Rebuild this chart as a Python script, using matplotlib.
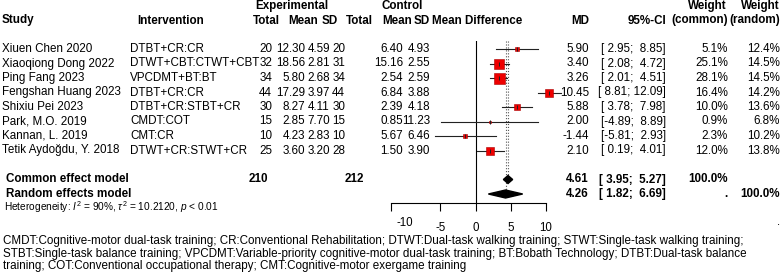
import matplotlib
matplotlib.use("Agg")
import matplotlib.pyplot as plt

plt.rcParams['font.family'] = ['Liberation Sans', 'DejaVu Sans']
plt.rcParams['mathtext.fontset'] = 'custom'
plt.rcParams['mathtext.rm'] = 'Liberation Sans'
plt.rcParams['mathtext.it'] = 'Liberation Sans:italic'

studies = ["Xiuen Chen 2020", "Xiaoqiong Dong 2022", "Ping Fang 2023", "Fengshan Huang 2023",
           "Shixiu Pei 2023", "Park, M.O. 2019", "Kannan, L. 2019", "Tetik Aydoğdu, Y. 2018"]
interv = ["DTBT+CR:CR", "DTWT+CBT:CTWT+CBT", "VPCDMT+BT:BT", "DTBT+CR:CR",
          "DTBT+CR:STBT+CR", "CMDT:COT", "CMT:CR", "DTWT+CR:STWT+CR"]
exp_n = [20, 32, 34, 44, 30, 15, 10, 25]
exp_mean = [12.30, 18.56, 5.80, 17.29, 8.27, 2.85, 4.23, 3.60]
exp_sd = [4.59, 2.81, 2.68, 3.97, 4.11, 7.70, 2.83, 3.20]
ctl_n = [20, 31, 34, 44, 30, 15, 10, 28]
ctl_mean = [6.40, 15.16, 2.54, 6.84, 2.39, 0.85, 5.67, 1.50]
ctl_sd = [4.93, 2.55, 2.59, 3.88, 4.18, 11.23, 6.46, 3.90]
md = [5.90, 3.40, 3.26, 10.45, 5.88, 2.00, -1.44, 2.10]
lo = [2.95, 2.08, 2.01, 8.81, 3.78, -4.89, -5.81, 0.19]
hi = [8.85, 4.72, 4.51, 12.09, 7.98, 8.89, 2.93, 4.01]
w_common = [5.1, 25.1, 28.1, 16.4, 10.0, 0.9, 2.3, 12.0]
w_random = [12.4, 14.5, 14.5, 14.2, 13.6, 6.8, 10.2, 13.8]

common = (4.61, 3.95, 5.27)
random_ = (4.26, 1.82, 6.69)
tot_exp, tot_ctl = 210, 212

footnote = ["CMDT:Cognitive-motor dual-task training; CR:Conventional Rehabilitation; DTWT:Dual-task walking training; STWT:Single-task walking training;",
            "STBT:Single-task balance training; VPCDMT:Variable-priority cognitive-motor dual-task training; BT:Bobath Technology; DTBT:Dual-task balance",
            "training; COT:Conventional occupational therapy; CMT:Cognitive-motor exergame training"]

W, H = 784, 272
fig = plt.figure(figsize=(W / 100, H / 100), dpi=100)

# text layer in pixel coordinates
tax = fig.add_axes([0, 0, 1, 1])
tax.set_xlim(0, W)
tax.set_ylim(H, 0)
tax.axis('off')

fs = 8.4
y0, dy = 49, 14.5
rows = [y0 + i * dy for i in range(len(studies))]
y_com, y_ran = 179.5, 194

def t(x, y, s, ha='left', bold=False, size=fs):
    tax.text(x, y, s, ha=ha, va='center', fontsize=size,
             fontweight='bold' if bold else 'normal')

# headers
t(292, 6, "Experimental", 'center', True)
t(402, 6, "Control", 'center', True)
t(688, 6, "Weight", 'left', True)
t(780, 6, "Weight", 'right', True)
t(2, 20.5, "Study", bold=True)
t(137, 20.5, "Intervention", bold=True)
for x, s in [(280, "Total"), (318, "Mean"), (338, "SD"), (373, "Total"), (412, "Mean"),
             (430, "SD"), (589, "MD"), (666, "95%-CI"), (728, "(common)"), (780, "(random)")]:
    t(x, 20.5, s, 'right', True)
t(432, 20.5, "Mean Difference", 'left', True)

for i, y in enumerate(rows):
    t(2, y, studies[i])
    t(130, y, interv[i])
    t(272, y, str(exp_n[i]), 'right')
    t(305, y, f"{exp_mean[i]:.2f}", 'right')
    t(330, y, f"{exp_sd[i]:.2f}", 'right')
    t(345, y, str(ctl_n[i]), 'right')
    t(403, y, f"{ctl_mean[i]:.2f}", 'right')
    t(430, y, f"{ctl_sd[i]:.2f}", 'right')
    t(589, y, f"{md[i]:.2f}", 'right')
    t(666, y, f"[{lo[i]:5.2f}; {hi[i]:5.2f}]", 'right')
    t(728, y, f"{w_common[i]:.1f}%", 'right')
    t(780, y, f"{w_random[i]:.1f}%", 'right')

t(6, y_com, "Common effect model", bold=True)
t(268, y_com, str(tot_exp), 'right', True)
t(364, y_com, str(tot_ctl), 'right', True)
t(589, y_com, f"{common[0]:.2f}", 'right', True)
t(666, y_com, f"[{common[1]:5.2f}; {common[2]:5.2f}]", 'right', True)
t(728, y_com, "100.0%", 'right', True)
t(6, y_ran, "Random effects model", bold=True)
t(589, y_ran, f"{random_[0]:.2f}", 'right', True)
t(666, y_ran, f"[{random_[1]:5.2f}; {random_[2]:5.2f}]", 'right', True)
t(728, y_ran, ".", 'right', True)
t(780, y_ran, "100.0%", 'right', True)
t(4, 207, r"Heterogeneity: $I^2$ = 90%, $\tau^2$ = 10.2120, $p$ < 0.01", size=7.3)
t(780, 222, ".", 'right')

for k, line in enumerate(footnote):
    t(3, 241 + k * 12.5, line, size=8.35)

# forest panel: x in mean difference, y in pixel rows
ax_top, ax_bot = 41, 203
fax = fig.add_axes([391 / W, (H - ax_bot) / H, 155 / W, (ax_bot - ax_top) / H])
fax.set_xlim(-12, 10)
fax.set_ylim(ax_bot, ax_top)
fax.patch.set_visible(False)
for side in ['top', 'right', 'left']:
    fax.spines[side].set_visible(False)
fax.spines['bottom'].set_linewidth(0.8)
fax.set_yticks([])
fax.set_xticks([-12, -5, 0, 5, 10])
fax.set_xticklabels(['', '-5', '0', '5', '10'], fontsize=8.3)
fax.tick_params(axis='x', length=6, width=0.8, pad=8)
fax.text(-10, -0.087, '-10', transform=fax.get_xaxis_transform(), ha='center', va='top', fontsize=8.3)

fax.axvline(0, color='black', lw=0.8)
fax.plot([common[0]] * 2, [ax_top, y_com], color='#555555', lw=0.8, ls=':')
fax.plot([random_[0]] * 2, [ax_top, y_ran], color='#555555', lw=0.8, ls=':')

for i, y in enumerate(rows):
    fax.plot([lo[i], hi[i]], [y, y], color='#222222', lw=0.8, clip_on=False, zorder=2)
    side = 11 * (w_common[i] / 28.1) ** 0.5 * 0.72
    fax.scatter([md[i]], [y], marker='s', s=side ** 2, color='#ee0000', edgecolors='#aa0000',
                linewidths=0.4, clip_on=False, zorder=3)
    fax.scatter([md[i]], [y], marker='|', s=12, color='#222222', linewidths=0.7,
                clip_on=False, zorder=4)

hh = 4
for (est, l, u), y in [(common, y_com), (random_, y_ran)]:
    fax.fill([l, est, u, est], [y, y - hh, y, y + hh], color='black', zorder=3, clip_on=False)

fig.savefig("out.png", dpi=100)
